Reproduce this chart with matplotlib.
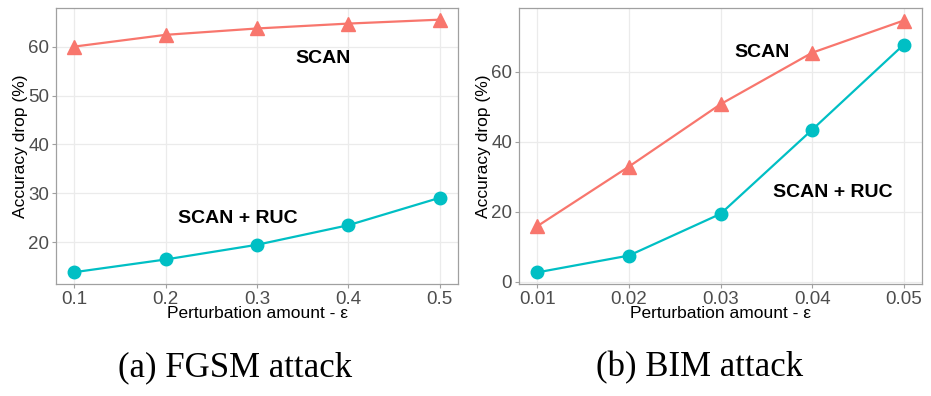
import matplotlib.pyplot as plt
import numpy as np

plt.rcParams['font.family'] = ['Liberation Sans', 'DejaVu Sans']

# FGSM panel
eps_fgsm = [0.1, 0.2, 0.3, 0.4, 0.5]
scan_fgsm = [60.0, 62.4, 63.7, 64.7, 65.5]
ruc_fgsm = [13.9, 16.5, 19.5, 23.5, 29.1]

# BIM panel
eps_bim = [0.01, 0.02, 0.03, 0.04, 0.05]
scan_bim = [15.9, 32.9, 50.7, 65.4, 74.6]
ruc_bim = [2.7, 7.5, 19.4, 43.4, 67.7]

captions = ['(a) FGSM attack', '(b) BIM attack']

red = '#F8766D'
cyan = '#00BFC4'

fig = plt.figure(figsize=(9.31, 3.96), dpi=100)
ax1 = fig.add_axes([0.0602, 0.283, 0.4317, 0.697])
ax2 = fig.add_axes([0.5575, 0.283, 0.4328, 0.697])


def style(ax, xs, yticks):
    ax.set_xticks(xs)
    ax.set_yticks(yticks)
    ax.grid(True, color='#EBEBEB', linewidth=0.9)
    ax.set_axisbelow(True)
    for s in ax.spines.values():
        s.set_color('#A0A0A0')
        s.set_linewidth(0.9)
    ax.tick_params(colors='#A0A0A0', length=3, labelsize=13.5, labelcolor='#4D4D4D', pad=2)
    ax.set_xlabel('Perturbation amount - ε', fontsize=12.5, labelpad=-1)
    ax.set_ylabel('Accuracy drop (%)', fontsize=12.5, labelpad=0)
    xr = xs[-1] - xs[0]
    ax.set_xlim(xs[0] - 0.05 * xr, xs[-1] + 0.05 * xr)


for ax, xs, s, r in [(ax1, eps_fgsm, scan_fgsm, ruc_fgsm), (ax2, eps_bim, scan_bim, ruc_bim)]:
    ax.plot(xs, s, color=red, linewidth=1.6, marker='^', markersize=10)
    ax.plot(xs, r, color=cyan, linewidth=1.6, marker='o', markersize=9)

style(ax1, eps_fgsm, [20, 30, 40, 50, 60])
ax1.set_ylim(11.5, 67.9)
ax1.text(0.372, 57.6, 'SCAN', fontsize=14, fontweight='bold', ha='center', va='center')
ax1.text(0.279, 24.9, 'SCAN + RUC', fontsize=14, fontweight='bold', ha='center', va='center')

style(ax2, eps_bim, [0, 20, 40, 60])
ax2.set_ylim(-0.6, 78.2)
ax2.text(0.0345, 65.4, 'SCAN', fontsize=14, fontweight='bold', ha='center', va='center')
ax2.text(0.0423, 25.4, 'SCAN + RUC', fontsize=14, fontweight='bold', ha='center', va='center')

fig.text(235 / 931, 1 - 368 / 396, captions[0], fontsize=25, family='Liberation Serif',
         ha='center', va='center')
fig.text(700 / 931, 1 - 368 / 396, captions[1], fontsize=25, family='Liberation Serif',
         ha='center', va='center')

plt.savefig('out.png', dpi=100)
